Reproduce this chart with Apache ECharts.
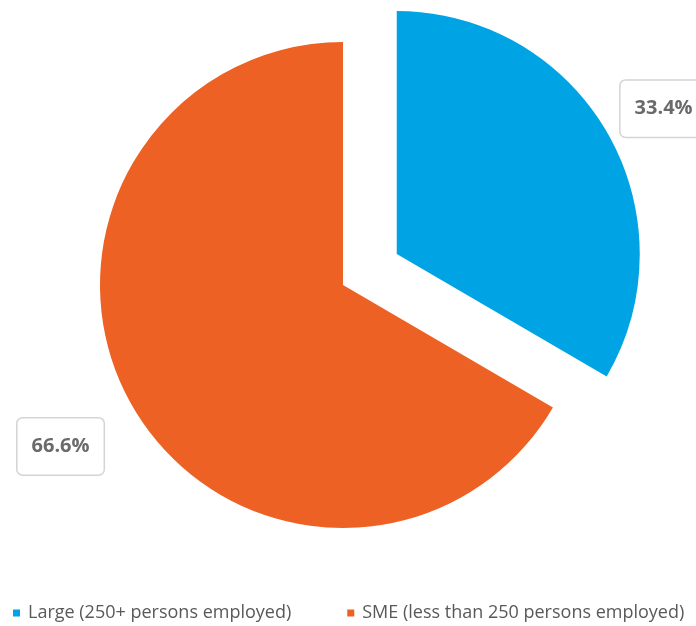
<!DOCTYPE html>
<html>
<head>
<meta charset="utf-8">
<script src="https://cdn.jsdelivr.net/npm/echarts@6/dist/echarts.min.js"></script>
<style>
  html, body { margin: 0; padding: 0; background: #fff; }
  #chart { width: 696px; height: 626px; }
</style>
</head>
<body>
<div id="chart"></div>
<script>
// 数据
const categories = ['Large (250+ persons employed)', 'SME (less than 250 persons employed)'];
const shares = [33.4, 66.6];
const colors = ['#00A4E4', '#ED6124'];
const lineLengths = [59, 77];

const chart = echarts.init(document.getElementById('chart'));

const option = {
    animation: false,
    legend: {
        data: categories,
        left: 8,
        top: 599,
        icon: 'rect',
        itemWidth: 7,
        itemHeight: 7,
        itemGap: 56,
        textStyle: {
            color: '#595959',
            fontSize: 18,
            fontFamily: 'Open Sans',
            padding: [0, 0, 0, 3]
        }
    },
    series: [{
        type: 'pie',
        center: [343, 285],
        radius: 243,
        startAngle: 90,
        selectedMode: 'single',
        selectedOffset: 62,
        avoidLabelOverlap: false,
        emphasis: { disabled: true },
        label: {
            show: true,
            position: 'outside',
            overflow: 'none',
            formatter: p => p.value.toFixed(1) + '%',
            color: '#6a6a6a',
            fontSize: 20,
            fontWeight: 'bold',
            fontFamily: 'Open Sans',
            backgroundColor: '#fff',
            borderColor: '#d4d4d4',
            borderWidth: 1.5,
            borderRadius: 5,
            padding: [18, 14]
        },
        labelLine: { show: false, length2: 0 },
        // 微调标签位置
        labelLayout: p => ({
            align: 'center',
            verticalAlign: 'middle',
            dy: p.dataIndex === 0 ? 5 : 2
        }),
        data: categories.map((name, i) => ({
            name: name,
            value: shares[i],
            selected: i === 0,
            itemStyle: { color: colors[i] },
            labelLine: { show: false, length: lineLengths[i], length2: 0 }
        }))
    }]
};

chart.setOption(option);
</script>
</body>
</html>
